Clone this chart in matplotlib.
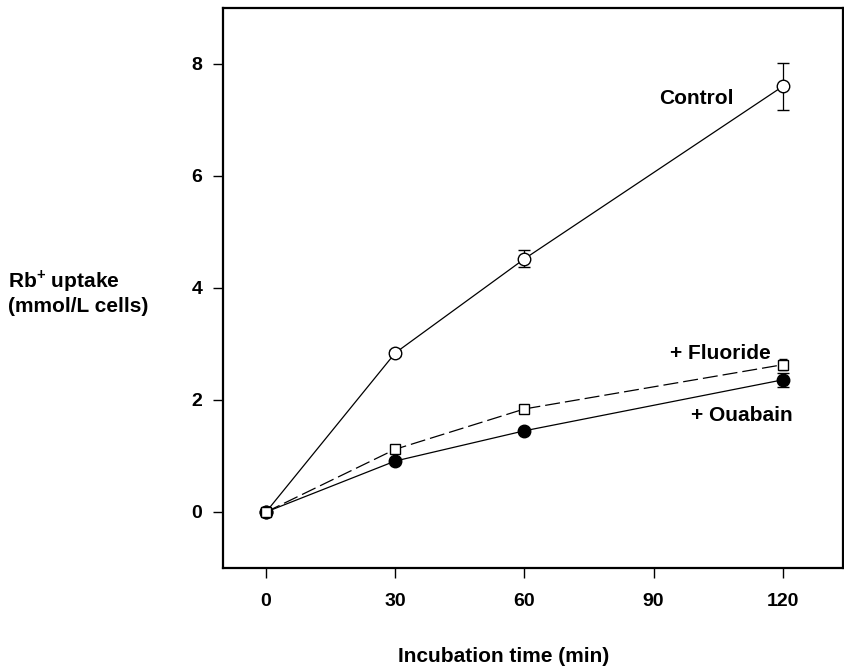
import matplotlib
matplotlib.use("Agg")
import matplotlib.pyplot as plt

plt.rcParams['font.family'] = ['Liberation Sans', 'DejaVu Sans']
plt.rcParams['font.weight'] = 'bold'
plt.rcParams['mathtext.fontset'] = 'custom'
plt.rcParams['mathtext.bf'] = 'Liberation Sans:bold'
plt.rcParams['mathtext.rm'] = 'Liberation Sans:bold'

# time points (min)
time = [0, 30, 60, 120]

control = [0.0, 2.84, 4.52, 7.60]
control_err = [0.0, 0.06, 0.15, 0.42]

fluoride = [0.0, 1.12, 1.84, 2.63]
fluoride_err = [0.0, 0.04, 0.07, 0.10]

ouabain = [0.0, 0.91, 1.45, 2.36]
ouabain_err = [0.0, 0.03, 0.04, 0.12]

xticks = [0, 30, 60, 90, 120]
yticks = [0, 2, 4, 6, 8]

fig = plt.figure(figsize=(8.44, 6.71), dpi=100)
ax = fig.add_axes([223/844, 1 - 568/671, 620/844, 560/671])

ax.errorbar(time, control, yerr=control_err, color='black', lw=0.9,
            marker='o', ms=9, mfc='white', mec='black', mew=1.0,
            capsize=4, elinewidth=0.9, capthick=0.9, zorder=2)
ax.errorbar(time, ouabain, yerr=ouabain_err, color='black', lw=0.9,
            marker='o', ms=9, mfc='black', mec='black', mew=1.0,
            capsize=4, elinewidth=0.9, capthick=0.9, zorder=3)
ax.errorbar(time, fluoride, yerr=fluoride_err, color='black', lw=0.9,
            ls=(0, (12, 4)), marker='s', ms=7, mfc='white', mec='black',
            mew=1.0, capsize=3, elinewidth=0.9, capthick=0.9, zorder=4)

ax.text(100, 7.38, 'Control', ha='center', va='center', fontsize=15, fontweight='bold')
ax.text(105.5, 2.83, '+ Fluoride', ha='center', va='center', fontsize=15, fontweight='bold')
ax.text(110.5, 1.72, '+ Ouabain', ha='center', va='center', fontsize=15, fontweight='bold')

ax.set_xlim(-10, 134)
ax.set_ylim(-1, 9)
ax.set_xticks(xticks)
ax.set_yticks(yticks)
ax.tick_params(direction='out', length=7, width=1.0, labelsize=14, pad=11)
ax.tick_params(axis='y', pad=8)
for lab in ax.get_xticklabels() + ax.get_yticklabels():
    lab.set_fontweight('bold')
for sp in ax.spines.values():
    sp.set_linewidth(1.6)

fig.text(504/844, 1 - 656/671, 'Incubation time (min)', ha='center', va='center',
         fontsize=15, fontweight='bold')
fig.text(8/844, 1 - 292/671, 'Rb$^{\\mathbf{+}}$ uptake\n(mmol/L cells)', ha='left',
         va='center', fontsize=15, fontweight='bold', linespacing=1.15)

fig.savefig('out.png', dpi=100)
